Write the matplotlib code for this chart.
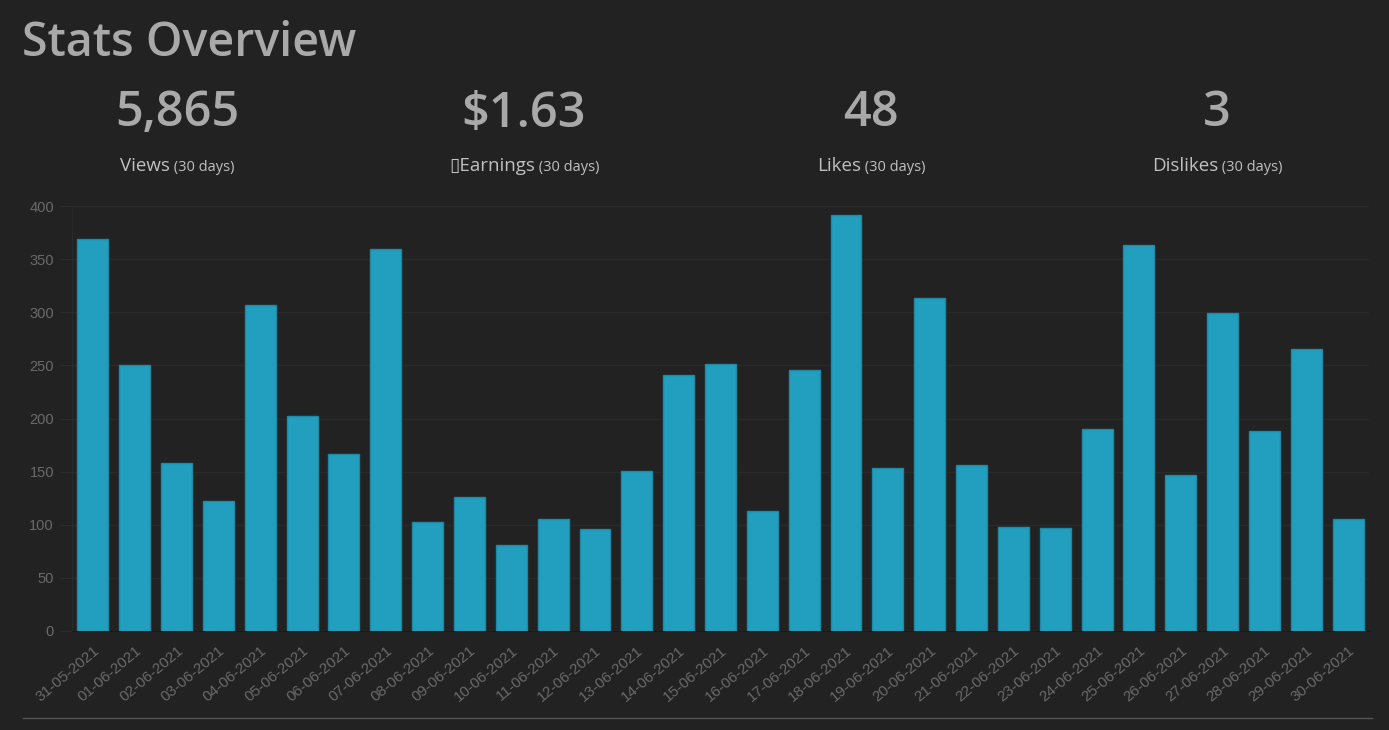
import matplotlib
matplotlib.use("Agg")
import matplotlib.pyplot as plt
import numpy as np

# data
dates = ['31-05-2021', '01-06-2021', '02-06-2021', '03-06-2021', '04-06-2021',
         '05-06-2021', '06-06-2021', '07-06-2021', '08-06-2021', '09-06-2021',
         '10-06-2021', '11-06-2021', '12-06-2021', '13-06-2021', '14-06-2021',
         '15-06-2021', '16-06-2021', '17-06-2021', '18-06-2021', '19-06-2021',
         '20-06-2021', '21-06-2021', '22-06-2021', '23-06-2021', '24-06-2021',
         '25-06-2021', '26-06-2021', '27-06-2021', '28-06-2021', '29-06-2021',
         '30-06-2021']
views = [369, 250, 158, 122, 307, 202, 167, 360, 103, 126,
         81, 105, 96, 151, 241, 251, 113, 246, 392, 153,
         313, 156, 98, 97, 190, 363, 147, 299, 188, 265, 105]

stat_values = ['5,865', '$1.63', '48', '3']
stat_names = ['Views', '\u25afEarnings', 'Likes', 'Dislikes']
stat_note = '(30 days)'
stat_x = [177, 524, 871, 1217]  # centres in pixels

W, H = 1389, 730
bg = '#222222'
bar_col = '#229ebf'
head_font = ['Open Sans', 'DejaVu Sans']

fig = plt.figure(figsize=(W / 100, H / 100), dpi=100, facecolor=bg)

# title
fig.text(22 / W, 1 - 43 / H, 'Stats Overview', fontsize=33.5, fontweight='semibold',
         color='#a9a9a9', family=head_font, va='center', ha='left')

renderer = fig.canvas.get_renderer()
for xc, val, name in zip(stat_x, stat_values, stat_names):
    fig.text(xc / W, 1 - 114 / H, val, fontsize=35, fontweight='semibold',
             color='#a9a9a9', family=head_font, va='center', ha='center')
    # label: name + small note, centred together
    t1 = fig.text(0, 0, name, fontsize=13.5, color='#c0c0c0', family=head_font)
    t2 = fig.text(0, 0, ' ' + stat_note, fontsize=10.5, color='#c0c0c0', family=head_font)
    w1 = t1.get_window_extent(renderer).width
    w2 = t2.get_window_extent(renderer).width
    x0 = xc - (w1 + w2) / 2
    t1.set_position((x0 / W, 1 - 171 / H))
    t2.set_position(((x0 + w1) / W, 1 - 171 / H))

# bar chart
ax = fig.add_axes([72 / W, 1 - 631 / H, (1369 - 72) / W, (631 - 206) / H], facecolor=bg)
x = np.arange(len(dates))
ax.bar(x, views, width=0.74, color=bar_col, edgecolor='#1f8aa6', linewidth=1, zorder=3)
ax.set_xlim(-0.5, len(dates) - 0.5)
ax.set_ylim(0, 400)
ax.set_yticks(np.arange(0, 401, 50))
ax.set_xticks(x)
ax.set_xticklabels(dates, rotation=40, ha='right', va='top', rotation_mode='anchor')
ax.tick_params(axis='y', colors='#2c2c2c', labelcolor='#6a6a6a', labelsize=10.5, length=9, pad=4)
ax.tick_params(axis='x', colors='#2c2c2c', labelcolor='#6a6a6a', labelsize=11, length=0, pad=9)
ax.grid(axis='y', color='#2a2a2a', linewidth=1, zorder=0)
for s in ['top', 'right']:
    ax.spines[s].set_visible(False)
ax.spines['left'].set_color('#2a2a2a')
ax.spines['bottom'].set_color('#1a1a1a')
for lab in ax.get_xticklabels() + ax.get_yticklabels():
    lab.set_family(['Liberation Sans', 'DejaVu Sans'])

# separator line at the bottom
fig.add_artist(plt.Line2D([23 / W, 1372 / W], [1 - 718 / H, 1 - 718 / H],
                          color='#555555', linewidth=1))

fig.savefig('out.png', dpi=100, facecolor=bg)
